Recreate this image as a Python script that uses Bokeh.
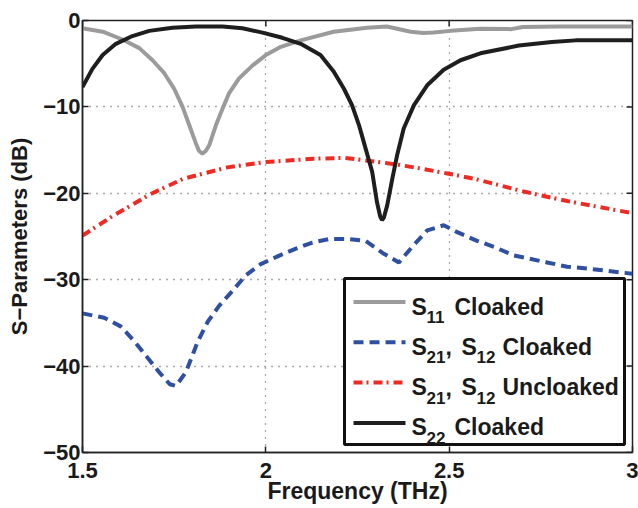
from bokeh.plotting import figure
from bokeh.models import FixedTicker, Label
from bokeh.embed import file_html
from bokeh.resources import INLINE

# Frequency sweep (THz) and S-parameter magnitudes (dB)
s11_freq = [1.5, 1.555, 1.609, 1.655, 1.691, 1.723, 1.75, 1.773, 1.791, 1.809,
            1.818, 1.827, 1.836, 1.846, 1.864, 1.882, 1.9, 1.927, 1.964, 2.0,
            2.041, 2.095, 2.185, 2.276, 2.33, 2.395, 2.43, 2.458, 2.504, 2.585,
            2.67, 2.70, 2.8, 2.9, 3.0]
s11_cloaked = [-0.9, -1.3, -2.2, -3.2, -4.6, -6.1, -7.9, -10.0, -12.1, -14.2,
               -15.1, -15.4, -15.1, -14.4, -12.1, -10.2, -8.4, -6.7, -5.2, -4.0,
               -3.05, -2.3, -1.3, -0.85, -0.7, -1.3, -1.45, -1.4, -1.2, -0.95,
               -1.0, -0.75, -0.7, -0.7, -0.7]

s22_freq = [1.5, 1.527, 1.555, 1.591, 1.636, 1.682, 1.745, 1.809, 1.882, 1.936,
            1.991, 2.045, 2.095, 2.149, 2.185, 2.213, 2.235, 2.254, 2.272, 2.29,
            2.303, 2.312, 2.317, 2.322, 2.331, 2.345, 2.358, 2.376, 2.404, 2.44,
            2.485, 2.531, 2.585, 2.69, 2.78, 2.845, 3.0]
s22_cloaked = [-7.7, -5.6, -4.0, -2.7, -1.8, -1.2, -0.85, -0.7, -0.7, -0.9,
               -1.4, -2.0, -2.7, -4.0, -5.9, -7.9, -9.8, -12.1, -14.8, -17.5,
               -21.0, -22.7, -23.1, -22.8, -21.4, -18.3, -15.6, -12.5, -9.8, -7.5,
               -5.7, -4.6, -3.8, -2.9, -2.5, -2.3, -2.3]

s21_freq = [1.5, 1.559, 1.604, 1.641, 1.677, 1.709, 1.738, 1.755, 1.782, 1.814,
            1.841, 1.873, 1.909, 1.945, 1.986, 2.032, 2.082, 2.127, 2.173, 2.227,
            2.272, 2.322, 2.363, 2.399, 2.44, 2.485, 2.522, 2.576, 2.622, 2.677,
            2.767, 2.822, 2.876, 2.976, 3.0]
s21_cloaked = [-33.9, -34.4, -35.4, -37.1, -39.0, -40.7, -42.1, -42.3, -40.7, -37.2,
               -34.9, -33.0, -31.3, -29.5, -28.2, -27.3, -26.4, -25.7, -25.3, -25.3,
               -25.5, -27.0, -28.0, -26.2, -24.3, -23.7, -24.5, -25.5, -26.2, -27.2,
               -28.0, -28.5, -28.7, -29.2, -29.3]

s21u_freq = [1.5, 1.576, 1.685, 1.776, 1.895, 1.995, 2.13, 2.213, 2.313, 2.376,
             2.431, 2.495, 2.567, 2.64, 2.704, 2.767, 2.822, 2.885, 2.949, 3.0]
s21_uncloaked = [-24.9, -22.8, -20.1, -18.3, -17.0, -16.4, -16.0, -15.9, -16.4, -16.8,
                 -17.2, -17.7, -18.3, -19.1, -19.8, -20.4, -20.9, -21.4, -21.9, -22.3]

x_ticks = [1.5, 2, 2.5, 3]
x_tick_labels = ["1.5", "2", "2.5", "3"]
y_ticks = [-50, -40, -30, -20, -10, 0]
y_tick_labels = ["\u221250", "\u221240", "\u221230", "\u221220", "\u221210", "0"]

GRAY = "#9b9b9b"
BLUE = "#2f4fa2"
RED = "#ee2a24"
BLACK = "#1e1e1e"
AXIS = "#222222"
TEXT = "#1a1a1a"
FONT = "Liberation Sans"

X_RANGE = (1.5, 3.0)
Y_RANGE = (-50, 0)
L, T, FW, FH = 82, 20, 550, 432

p = figure(width=638, height=508, x_range=X_RANGE, y_range=Y_RANGE,
           output_backend="svg", toolbar_location=None,
           min_border_left=L, min_border_top=T, min_border_right=6,
           min_border_bottom=56)
p.background_fill_color = "white"
p.border_fill_color = "white"
p.outline_line_color = AXIS
p.outline_line_width = 1.5

# pixel -> data helpers for the legend, which is laid out in pixels
def fx(px):
    return X_RANGE[0] + (px - L) * (X_RANGE[1] - X_RANGE[0]) / FW

def fy(py):
    return Y_RANGE[1] - (py - T) * (Y_RANGE[1] - Y_RANGE[0]) / FH

# grid
p.xgrid.ticker = FixedTicker(ticks=[2, 2.5])
p.ygrid.ticker = FixedTicker(ticks=[-40, -30, -20, -10])
for g in (p.xgrid, p.ygrid):
    g.grid_line_color = "#555555"
    g.grid_line_dash = "1 6"
    g.grid_line_width = 1.3

for ax, ticks, labels in ((p.xaxis[0], x_ticks, x_tick_labels),
                          (p.yaxis[0], y_ticks, y_tick_labels)):
    ax.ticker = FixedTicker(ticks=ticks)
    ax.major_label_overrides = {t: s for t, s in zip(ticks, labels)}
    ax.minor_tick_line_color = None
    ax.major_tick_in = 6
    ax.major_tick_out = 0
    ax.major_tick_line_color = AXIS
    ax.major_tick_line_width = 1.5
    ax.axis_line_color = AXIS
    ax.axis_line_width = 1.5
    ax.major_label_text_font = FONT
    ax.major_label_text_font_style = "bold"
    ax.major_label_text_font_size = "22px"
    ax.major_label_text_color = TEXT
    ax.axis_label_text_font = FONT
    ax.axis_label_text_font_style = "bold"
    ax.axis_label_text_font_size = "22px"
    ax.axis_label_text_color = TEXT

p.xaxis[0].axis_label = "Frequency (THz)"
p.xaxis[0].axis_label_text_font_size = "23px"
p.xaxis[0].major_label_standoff = 10
p.xaxis[0].axis_label_standoff = -3
p.yaxis[0].axis_label = "S\u2212Parameters (dB)"
p.yaxis[0].major_label_standoff = 2
p.yaxis[0].axis_label_standoff = 8

# inward ticks on the top and right edges of the box
p.segment(x0=x_ticks, x1=x_ticks, y0=[Y_RANGE[1]] * len(x_ticks),
          y1=[fy(T + 6)] * len(x_ticks), line_color=AXIS, line_width=1.5)
p.segment(x0=[X_RANGE[1]] * len(y_ticks), x1=[fx(L + FW - 6)] * len(y_ticks),
          y0=y_ticks, y1=y_ticks, line_color=AXIS, line_width=1.5)

# curves
p.line(s11_freq, s11_cloaked, line_color=GRAY, line_width=4)
p.line(s21_freq, s21_cloaked, line_color=BLUE, line_width=4, line_dash="10 6")
p.line(s21u_freq, s21_uncloaked, line_color=RED, line_width=4, line_dash="9 4 2 5")
p.line(s22_freq, s22_cloaked, line_color=BLACK, line_width=4)

# legend box
p.quad(left=[fx(344)], right=[fx(624)], top=[fy(278)], bottom=[fy(444)],
       fill_color="white", line_color="#111111", line_width=3)

rows = [
    (GRAY, None, [("S", 411, False), ("11", 426, True), ("Cloaked", 454, False)]),
    (BLUE, "10 6", [("S", 411, False), ("21", 426, True), (",", 445, False),
                    ("S", 461, False), ("12", 476, True), ("Cloaked", 502, False)]),
    (RED, "9 4 2 5", [("S", 411, False), ("21", 426, True), (",", 445, False),
                      ("S", 461, False), ("12", 476, True), ("Uncloaked", 502, False)]),
    (BLACK, None, [("S", 411, False), ("22", 426, True), ("Cloaked", 454, False)]),
]
for i, (color, dash, parts) in enumerate(rows):
    base = 306 + 40.3 * i
    kw = dict(line_color=color, line_width=4)
    if dash:
        kw["line_dash"] = dash
    p.line([fx(353), fx(405)], [fy(base - 4.5)] * 2, **kw)
    for txt, px, sub in parts:
        p.add_layout(Label(x=fx(px), y=fy(base + (10.5 if sub else 0)), text=txt,
                           text_font=FONT, text_font_style="bold",
                           text_font_size="17px" if sub else "23px",
                           text_color=TEXT, text_baseline="alphabetic",
                           text_align="left"))

open("out.html", "w").write(file_html(p, INLINE))
